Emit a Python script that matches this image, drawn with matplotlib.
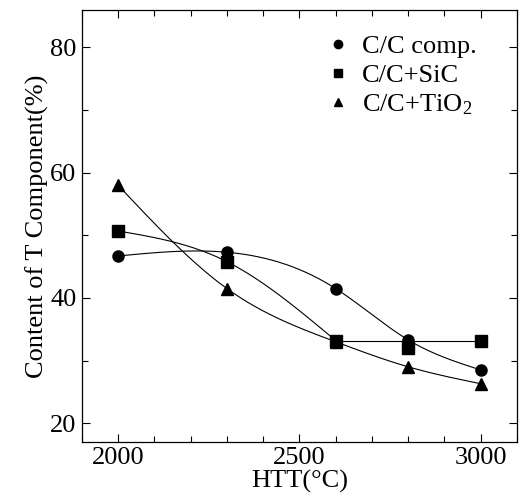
import numpy as np
import matplotlib.pyplot as plt
from matplotlib.ticker import MultipleLocator

plt.rcParams['font.family'] = ['Liberation Serif', 'DejaVu Serif']
plt.rcParams['mathtext.fontset'] = 'custom'
plt.rcParams['mathtext.rm'] = 'Liberation Serif'
plt.rcParams['mathtext.it'] = 'Liberation Serif:italic'

# data
htt = [2000, 2300, 2600, 2800, 3000]
cc_comp = [46.7, 47.3, 41.5, 33.3, 28.5]
cc_sic = [50.7, 45.8, 33.2, 32.0, 33.2]
cc_tio2 = [58.0, 41.5, 33.0, 29.0, 26.3]


def natural_spline(x, y, xs):
    # plain natural cubic spline, used only for the smooth guide lines
    x = np.asarray(x, float)
    y = np.asarray(y, float)
    n = len(x)
    h = np.diff(x)
    A = np.zeros((n, n))
    b = np.zeros(n)
    A[0, 0] = A[-1, -1] = 1
    for i in range(1, n - 1):
        A[i, i - 1] = h[i - 1]
        A[i, i] = 2 * (h[i - 1] + h[i])
        A[i, i + 1] = h[i]
        b[i] = 6 * ((y[i + 1] - y[i]) / h[i] - (y[i] - y[i - 1]) / h[i - 1])
    m = np.linalg.solve(A, b)
    out = np.empty_like(xs)
    for j, t in enumerate(xs):
        i = min(np.searchsorted(x, t, side='right') - 1, n - 2)
        i = max(i, 0)
        a = x[i + 1] - t
        c = t - x[i]
        out[j] = (m[i] * a**3 + m[i + 1] * c**3) / (6 * h[i]) \
            + (y[i] / h[i] - m[i] * h[i] / 6) * a \
            + (y[i + 1] / h[i] - m[i + 1] * h[i] / 6) * c
    return out


fig = plt.figure(figsize=(5.28, 4.96), dpi=100)
ax = fig.add_axes([0.155, 0.109, 0.824, 0.871])

xs = np.linspace(2000, 3000, 300)
ax.plot(xs, natural_spline(htt, cc_comp, xs), color='black', lw=0.8)
ax.plot(xs, natural_spline(htt, cc_tio2, xs), color='black', lw=0.8)
xa = np.linspace(2000, 2600, 150)
ax.plot(xa, natural_spline(htt[:3], cc_sic[:3], xa), color='black', lw=0.8)
ax.plot([2600, 3000], [cc_sic[2], cc_sic[4]], color='black', lw=0.8)

ax.plot(htt, cc_comp, 'o', color='black', ms=8, ls='none', label='C/C comp.')
ax.plot(htt, cc_sic, 's', color='black', ms=8, ls='none', label='C/C+SiC')
ax.plot(htt, cc_tio2, '^', color='black', ms=8, ls='none', label='C/C+TiO$_2$')

ax.set_xlim(1900, 3100)
ax.set_ylim(17, 86)
ax.set_xticks([2000, 2500, 3000])
ax.set_yticks([20, 40, 60, 80])
ax.xaxis.set_minor_locator(MultipleLocator(100))
ax.yaxis.set_minor_locator(MultipleLocator(10))
ax.tick_params(which='both', direction='in', top=True, right=True, labelsize=19, pad=4)
ax.tick_params(which='major', length=6, width=0.8)
ax.tick_params(which='minor', length=4, width=0.8)
for s in ax.spines.values():
    s.set_linewidth(0.9)

ax.set_xlabel('HTT(°C)', fontsize=19, labelpad=0)
ax.set_ylabel('Content of T Component(%)', fontsize=19, labelpad=1)

ax.legend(loc='upper right', frameon=False, fontsize=19, handletextpad=0.4,
          borderaxespad=0.3, labelspacing=0.2, handlelength=1.0, markerscale=0.75,
          bbox_to_anchor=(0.95, 0.985))

fig.savefig('out.png', dpi=100)
